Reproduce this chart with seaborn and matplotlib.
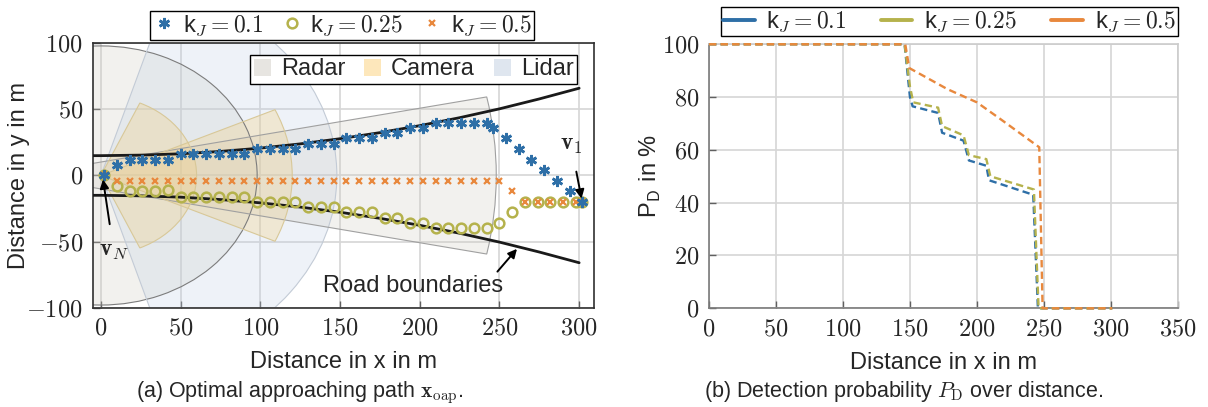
import numpy as np
import pandas as pd
import matplotlib
matplotlib.use("Agg")
import matplotlib.pyplot as plt
import seaborn as sns
from matplotlib.patches import Wedge, Patch
from matplotlib.lines import Line2D
from matplotlib.ticker import FuncFormatter, MultipleLocator

# ---------------- data: left panel (optimal approaching path) ----------------
path_x_01 = [2, 10, 18, 26, 34, 42, 50, 58, 66, 74, 82, 90, 98, 106, 114, 122, 130, 138,
             146, 154, 162, 170, 178, 186, 194, 202, 210, 218, 226, 234, 242,
             246, 254, 262, 270, 278, 286, 294, 302]
path_y_01 = [0, 8, 12, 12, 12, 12, 16, 16, 16, 16, 16, 16, 20, 20, 20, 20, 24, 24,
             24, 28, 28, 28, 32, 32, 36, 36, 40, 40, 40, 40, 40,
             36, 28, 20, 12, 4, -4, -12, -20]

path_x_025 = [2, 10, 18, 26, 34, 42, 50, 58, 66, 74, 82, 90, 98, 106, 114, 122, 130, 138,
              146, 154, 162, 170, 178, 186, 194, 202, 210, 218, 226, 234, 242, 250,
              258, 266, 274, 282, 290, 298, 302]
path_y_025 = [0, -8, -12, -12, -12, -11, -16, -16, -16, -16, -16, -16, -20, -20, -20, -20, -24, -24,
              -24, -28, -28, -28, -32, -32, -36, -36, -40, -40, -40, -40, -40, -36,
              -28, -20, -20, -20, -20, -20, -20]

path_x_05 = [2, 10, 18, 26, 34, 42, 50, 58, 66, 74, 82, 90, 98, 106, 114, 122, 130, 138,
             146, 154, 162, 170, 178, 186, 194, 202, 210, 218, 226, 234, 242, 250,
             258, 266, 274, 282, 290, 298, 302]
path_y_05 = [0, -4, -4, -4, -4, -4, -4, -4, -4, -4, -4, -4, -4, -4, -4, -4, -4, -4,
             -4, -4, -4, -4, -4, -4, -4, -4, -4, -4, -4, -4, -4, -4,
             -12, -20, -20, -20, -20, -20, -20]

road_x = [-5, 0, 25, 50, 75, 100, 125, 150, 175, 200, 225, 250, 275, 300]
road_upper = [15, 15, 15.4, 16.4, 18.2, 20.7, 23.9, 27.8, 32.4, 37.7, 43.7, 50.4, 57.9, 66.0]
road_lower = [-15, -15, -15.4, -16.4, -18.2, -20.7, -23.9, -27.8, -32.4, -37.7, -43.7, -50.4, -57.9, -66.0]

# sensor fields of view: (sensor, apex x, range, half opening angle in deg)
sensor_kind = ["Radar", "Lidar", "Radar", "Camera", "Camera"]
sensor_apex_x = [0, 0, -50, 0, 0]
sensor_range = [98, 148, 298, 120, 60]
sensor_half_angle = [180, 73, 11.5, 24.5, 66]

# ---------------- data: right panel (detection probability) ----------------
pd_x_01 = [0, 146, 150, 152, 171, 174, 190, 194, 207, 209, 242, 245.5, 301]
pd_y_01 = [100, 100, 80, 76.5, 74, 66.5, 63.5, 56, 54, 48.5, 43, 0, 0]
pd_x_025 = [0, 146, 150, 152.5, 171, 174, 190, 194, 207, 210, 242.5, 246, 301]
pd_y_025 = [100, 100, 84, 78, 76, 69, 65.5, 58, 56.5, 50, 45, 0, 0]
pd_x_05 = [0, 146.5, 149.5, 178, 200, 218, 246.5, 249, 301]
pd_y_05 = [100, 100, 91, 83, 78, 71.5, 61, 0, 0]

labels = [r"k$_J = 0.1$", r"k$_J = 0.25$", r"k$_J = 0.5$"]

# ---------------- style ----------------
sns.set_style("white")
plt.rcParams["font.family"] = ["Liberation Sans", "DejaVu Sans"]
plt.rcParams["mathtext.fontset"] = "cm"
plt.rcParams["axes.unicode_minus"] = True

BLUE = "#2e6fa7"
OLIVE = "#b5b24c"
ORANGE = "#e8883d"
FS = 17

sensor_fill = {"Radar": "#cdc9c0", "Camera": "#f2cf80", "Lidar": "#c2d1e6"}
sensor_alpha = {"Radar": 0.26, "Camera": 0.30, "Lidar": 0.28}
sensor_edge = {"Radar": "#a0a0a0", "Camera": "#d8c898", "Lidar": "#c3cbd6"}
legend_fill = {"Radar": "#e7e5e1", "Camera": "#fde7bb", "Lidar": "#dfe6ef"}

fig = plt.figure(figsize=(12.08, 4.07), dpi=100)
axL = fig.add_axes([0.0767, 0.244, 0.415, 0.6497])
axR = fig.add_axes([0.5869, 0.2425, 0.3882, 0.6487])

tickfmt = FuncFormatter(lambda v, p: f"${v:.0f}$")

# ---------------- left panel ----------------
for i, (kind, ax0, r, half) in enumerate(zip(sensor_kind, sensor_apex_x, sensor_range,
                                              sensor_half_angle)):
    w = Wedge((ax0, 0), r, -half, half, facecolor=sensor_fill[kind],
              alpha=sensor_alpha[kind], edgecolor="none", zorder=1)
    axL.add_patch(w)
    ec = "#7c7c7c" if i == 0 else sensor_edge[kind]
    we = Wedge((ax0, 0), r, -half, half, facecolor="none", edgecolor=ec,
               lw=0.8, zorder=1.1)
    axL.add_patch(we)

sns.lineplot(x=road_x, y=road_upper, ax=axL, color="#1a1a1a", lw=2.0, sort=False,
             estimator=None, zorder=3)
sns.lineplot(x=road_x, y=road_lower, ax=axL, color="#1a1a1a", lw=2.0, sort=False,
             estimator=None, zorder=3)

sns.lineplot(x=path_x_025, y=path_y_025, ax=axL, color=OLIVE, linestyle="", marker="o",
             markersize=7, markerfacecolor="none", markeredgecolor=OLIVE,
             markeredgewidth=1.8, sort=False, estimator=None, zorder=4)
sns.lineplot(x=path_x_05, y=path_y_05, ax=axL, color=ORANGE, linestyle="", marker="x",
             markersize=5, markeredgecolor=ORANGE, markeredgewidth=1.6,
             sort=False, estimator=None, zorder=5)
sns.lineplot(x=path_x_01, y=path_y_01, ax=axL, color=BLUE, linestyle="", marker=(6, 2, 0),
             markersize=8, markeredgecolor=BLUE, markeredgewidth=1.9,
             sort=False, estimator=None, zorder=6)

axL.set_xlim(-5.2, 309.3)
axL.set_ylim(-100, 100)
axL.xaxis.set_major_locator(MultipleLocator(50))
axL.yaxis.set_major_locator(MultipleLocator(50))

# annotations
axL.annotate(r"$\mathbf{v}_N$", xy=(1.3, -3), xytext=(8, -57), fontsize=FS,
             ha="center", va="center",
             arrowprops=dict(arrowstyle="-|>", color="black", lw=1.4,
                             mutation_scale=13, shrinkA=9, shrinkB=0), zorder=8)
axL.annotate(r"$\mathbf{v}_1$", xy=(301.5, -17.5), xytext=(295, 23), fontsize=FS,
             ha="center", va="center",
             arrowprops=dict(arrowstyle="-|>", color="black", lw=1.4,
                             mutation_scale=13, shrinkA=9, shrinkB=0), zorder=8)
axL.annotate("Road boundaries", xy=(261, -55.5), xytext=(196, -83.5), fontsize=FS,
             ha="center", va="center",
             arrowprops=dict(arrowstyle="-|>", color="black", lw=1.4,
                             mutation_scale=13, shrinkA=0, shrinkB=0,
                             relpos=(0.93, 0.8)), zorder=8)

# legends
hL = [Line2D([], [], ls="", marker=(6, 2, 0), color=BLUE, ms=8, mew=1.9),
      Line2D([], [], ls="", marker="o", mfc="none", mec=OLIVE, color=OLIVE, ms=7, mew=1.8),
      Line2D([], [], ls="", marker="x", color=ORANGE, ms=5, mew=1.6)]
legA = axL.legend(hL, labels, loc="lower center", bbox_to_anchor=(0.497, 1.012), ncol=3,
                  frameon=True, fancybox=False, edgecolor="black", fontsize=FS,
                  handlelength=1.0, handletextpad=0.3, columnspacing=0.7,
                  borderpad=0.1, borderaxespad=0.0, framealpha=1)
legA.get_frame().set_linewidth(1.0)
axL.add_artist(legA)

hS = [Patch(facecolor=legend_fill[k], edgecolor="none") for k in ["Radar", "Camera", "Lidar"]]
legS = axL.legend(hS, ["Radar", "Camera", "Lidar"], loc="upper right",
                  bbox_to_anchor=(0.966, 0.956), ncol=3, frameon=True, fancybox=False,
                  edgecolor="black", fontsize=FS, handlelength=0.72, handleheight=0.72,
                  handletextpad=0.42, columnspacing=0.8, borderpad=0.15,
                  borderaxespad=0.0, framealpha=1)
legS.get_frame().set_linewidth(1.0)

axL.set_xlabel("Distance in x in m", fontsize=FS)
axL.set_ylabel("Distance in y in m", fontsize=FS)
axL.xaxis.set_label_coords(0.5, -0.229)
axL.xaxis.label.set_va("baseline")
axL.yaxis.set_label_coords(-0.147, 0.5)
axL.yaxis.label.set_va("center")

# ---------------- right panel ----------------
dash = (0, (3.1, 1.8))
for xs, ys, c in [(pd_x_01, pd_y_01, BLUE), (pd_x_025, pd_y_025, OLIVE), (pd_x_05, pd_y_05, ORANGE)]:
    sns.lineplot(x=xs, y=ys, ax=axR, color=c, lw=1.7, linestyle=dash, sort=False,
                 estimator=None, zorder=5, clip_on=False)

axR.set_xlim(0, 350)
axR.set_ylim(0, 100)
axR.xaxis.set_major_locator(MultipleLocator(50))
axR.yaxis.set_major_locator(MultipleLocator(20))

hR = [Line2D([], [], color=c, lw=2.8) for c in [BLUE, OLIVE, ORANGE]]
legR = axR.legend(hR, labels, loc="lower right", bbox_to_anchor=(1.0, 1.03), ncol=3,
                  frameon=True, fancybox=False, edgecolor="black", fontsize=FS,
                  handlelength=1.33, handletextpad=0.5, columnspacing=1.45,
                  borderpad=0.1, borderaxespad=0.0, framealpha=1)
legR.get_frame().set_linewidth(1.0)

axR.set_xlabel("Distance in x in m", fontsize=FS)
axR.set_ylabel(r"P$_\mathsf{D}$ in %", fontsize=FS)
axR.xaxis.set_label_coords(0.5, -0.229)
axR.xaxis.label.set_va("baseline")
axR.yaxis.set_label_coords(-0.1245, 0.5)
axR.yaxis.label.set_va("center")

# ---------------- common axes styling ----------------
for ax in (axL, axR):
    ax.set_axisbelow(True)
    ax.grid(True, color="#d6d6d6", lw=1.2)
    ax.xaxis.set_major_formatter(tickfmt)
    ax.yaxis.set_major_formatter(tickfmt)
    ax.tick_params(axis="both", which="major", direction="in", length=5, width=1,
                   color="#606060", labelsize=17.5, pad=7, bottom=True, left=True)

for s in axL.spines.values():
    s.set_color("#303030")
    s.set_linewidth(1.2)
for name, s in axR.spines.items():
    s.set_linewidth(1.2)
    s.set_color("#7a7a7a" if name in ("bottom", "left") else "#cccccc")
    s.set_zorder(2)

# captions
fig.text(300 / 1208, 1 - 397.5 / 407, r"(a) Optimal approaching path $\mathbf{x}_{\mathrm{oap}}$.",
         ha="center", va="baseline", fontsize=15.5)
fig.text(904 / 1208, 1 - 397.5 / 407, r"(b) Detection probability $P_{\mathrm{D}}$ over distance.",
         ha="center", va="baseline", fontsize=15.5)

fig.savefig("out.png", dpi=100)
